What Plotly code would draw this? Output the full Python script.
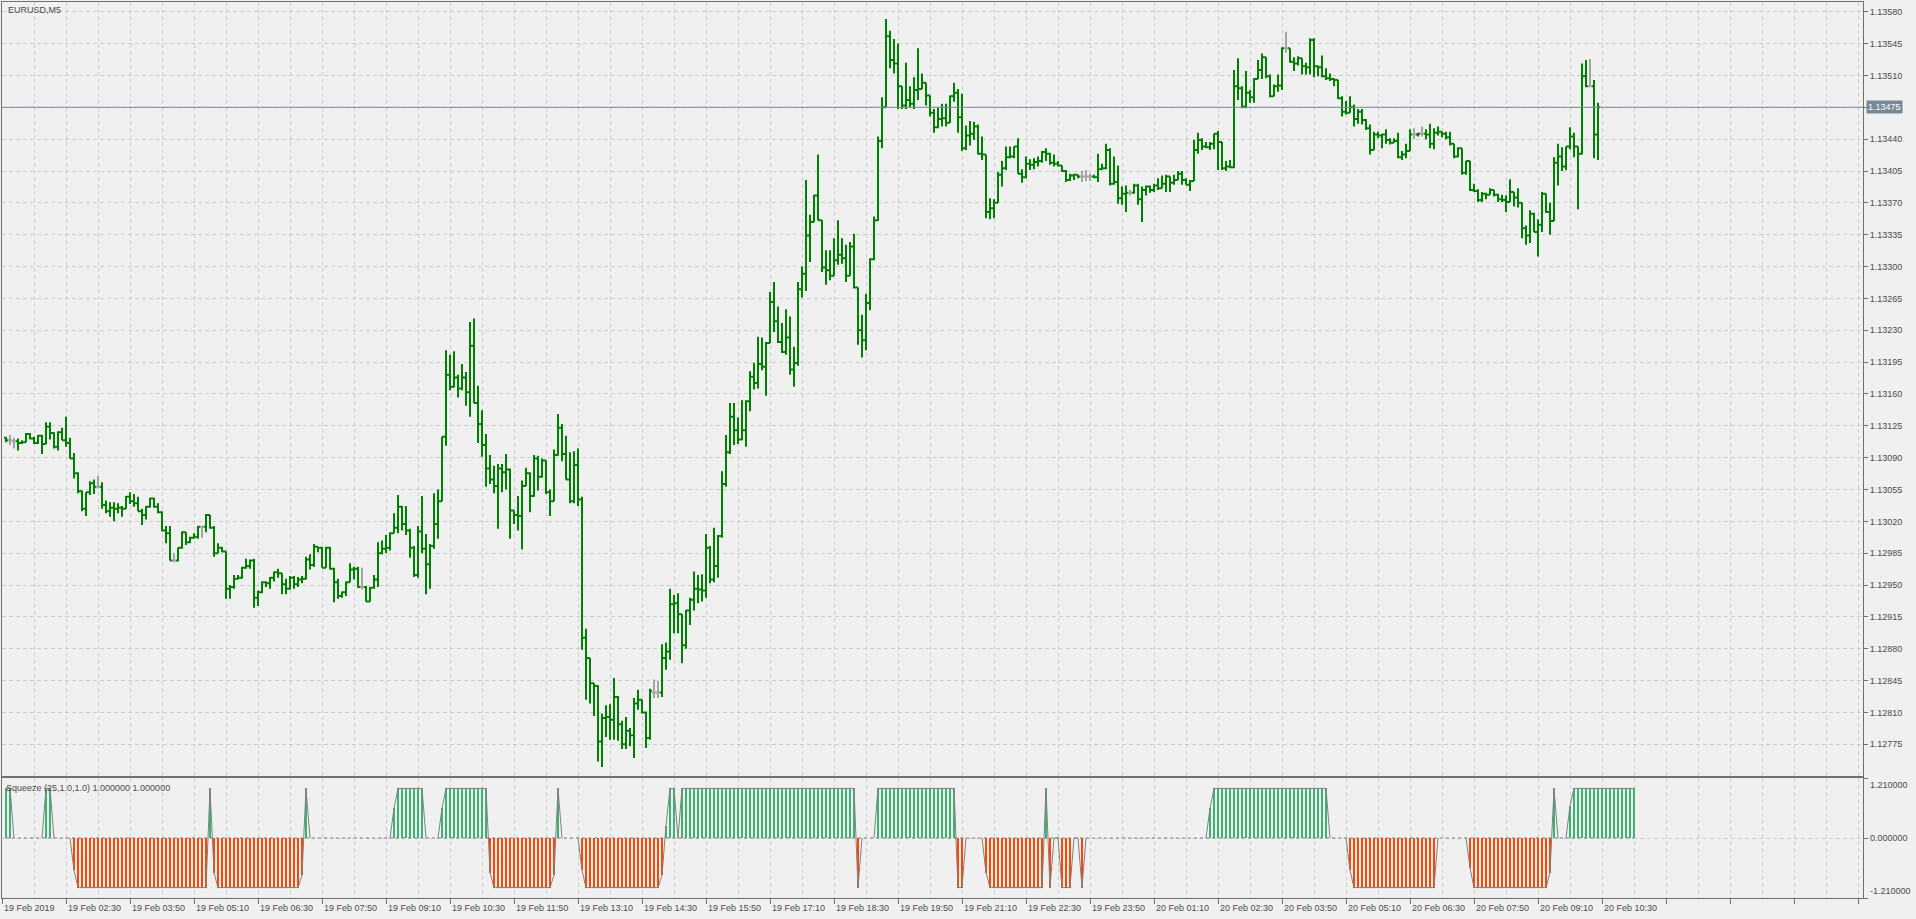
import plotly.graph_objects as go

# ---------------- data ----------------
symbol_title = "EURUSD,M5"
indicator_title = "Squeeze (25,1.0,1.0) 1.000000 1.000000"

opens = [
1.13112,1.13109,1.13108,1.13108,1.13106,1.13107,1.13116,1.13111,1.13106,1.13114,
1.13105,1.13124,1.13117,1.13102,1.13118,1.13109,1.13106,1.13089,1.13073,1.13053,
1.13034,1.13052,1.13062,1.13058,1.13058,1.13038,1.13031,1.13035,1.13034,1.13035,
1.13034,1.13047,1.13042,1.13040,1.13031,1.13027,1.13036,1.13045,1.13036,1.13030,
1.13010,1.13007,1.12977,1.12977,1.12991,1.13008,1.12997,1.13002,1.13003,1.13014,
1.13014,1.13027,1.13013,1.12985,1.12991,1.12987,1.12946,1.12948,1.12957,1.12958,
1.12969,1.12971,1.12977,1.12936,1.12942,1.12953,1.12952,1.12958,1.12964,1.12963,
1.12951,1.12946,1.12958,1.12951,1.12956,1.12957,1.12978,1.12972,1.12992,1.12991,
1.12969,1.12991,1.12968,1.12953,1.12938,1.12942,1.12953,1.12967,1.12968,1.12948,
1.12948,1.12932,1.12947,1.12956,1.12985,1.12990,1.12991,1.13007,1.13013,1.13036,
1.13017,1.13010,1.12991,1.12961,1.13009,1.12990,1.12973,1.12993,1.13017,1.13042,
1.13113,1.13181,1.13168,1.13178,1.13166,1.13178,1.13162,1.13213,1.13150,1.13127,
1.13104,1.13078,1.13066,1.13059,1.13078,1.13074,1.13077,1.13032,1.13027,1.13026,
1.13059,1.13073,1.13048,1.13089,1.13069,1.13087,1.13052,1.13042,1.13093,1.13123,
1.13094,1.13066,1.13042,1.13082,1.13044,1.12892,1.12870,1.12842,1.12839,1.12778,
1.12804,1.12805,1.12802,1.12827,1.12797,1.12775,1.12790,1.12785,1.12820,1.12824,
1.12810,1.12782,1.12832,1.12832,1.12832,1.12870,1.12877,1.12929,1.12930,1.12918,
1.12884,1.12922,1.12934,1.12946,1.12945,1.12944,1.12991,1.12956,1.12971,1.13004,
1.13061,1.13096,1.13135,1.13120,1.13110,1.13120,1.13152,1.13179,1.13172,1.13193,
1.13190,1.13216,1.13261,1.13240,1.13217,1.13206,1.13222,1.13187,1.13194,1.13275,
1.13292,1.13334,1.13349,1.13378,1.13351,1.13299,1.13296,1.13290,1.13307,1.13313,
1.13309,1.13290,1.13322,1.13277,1.13230,1.13219,1.13260,1.13308,1.13351,1.13438,
1.13475,1.13553,1.13527,1.13523,1.13498,1.13477,1.13483,1.13479,1.13494,1.13495,
1.13502,1.13488,1.13469,1.13453,1.13462,1.13463,1.13458,1.13487,1.13491,1.13464,
1.13430,1.13444,1.13446,1.13454,1.13424,1.13423,1.13360,1.13364,1.13370,1.13401,
1.13408,1.13420,1.13421,1.13432,1.13402,1.13398,1.13413,1.13412,1.13415,1.13416,
1.13426,1.13424,1.13414,1.13413,1.13411,1.13405,1.13395,1.13400,1.13401,1.13399,
1.13399,1.13399,1.13399,1.13398,1.13407,1.13408,1.13428,1.13391,1.13393,1.13375,
1.13380,1.13381,1.13381,1.13389,1.13374,1.13384,1.13388,1.13384,1.13389,1.13386,
1.13391,1.13399,1.13392,1.13395,1.13402,1.13395,1.13390,1.13394,1.13428,1.13439,
1.13432,1.13431,1.13435,1.13446,1.13437,1.13408,1.13410,1.13409,1.13498,1.13496,
1.13476,1.13491,1.13486,1.13506,1.13516,1.13530,1.13509,1.13487,1.13498,1.13499,
1.13540,1.13540,1.13525,1.13523,1.13529,1.13520,1.13519,1.13549,1.13520,1.13519,
1.13509,1.13507,1.13506,1.13505,1.13485,1.13470,1.13469,1.13475,1.13462,1.13470,
1.13461,1.13452,1.13428,1.13445,1.13444,1.13445,1.13439,1.13436,1.13438,1.13420,
1.13423,1.13427,1.13445,1.13445,1.13446,1.13446,1.13445,1.13435,1.13447,1.13448,
1.13446,1.13442,1.13435,1.13421,1.13430,1.13403,1.13416,1.13384,1.13383,1.13373,
1.13380,1.13379,1.13384,1.13379,1.13374,1.13373,1.13371,1.13382,1.13376,1.13370,
1.13342,1.13334,1.13358,1.13338,1.13346,1.13380,1.13360,1.13350,1.13414,1.13421,
1.13410,1.13432,1.13443,1.13432,1.13424,1.13509,1.13498,1.13498,1.13445]

highs = [
1.13113,1.13115,1.13112,1.13111,1.13109,1.13117,1.13117,1.13113,1.13115,1.13115,
1.13129,1.13129,1.13118,1.13119,1.13123,1.13135,1.13112,1.13095,1.13074,1.13054,
1.13052,1.13064,1.13066,1.13070,1.13063,1.13043,1.13041,1.13041,1.13040,1.13037,
1.13048,1.13052,1.13050,1.13047,1.13034,1.13037,1.13046,1.13046,1.13040,1.13031,
1.13015,1.13015,1.12985,1.12991,1.13009,1.13008,1.13003,1.13007,1.13015,1.13015,
1.13028,1.13027,1.13015,1.12996,1.12992,1.12987,1.12950,1.12961,1.12961,1.12970,
1.12979,1.12978,1.12979,1.12944,1.12954,1.12954,1.12959,1.12965,1.12968,1.12963,
1.12957,1.12960,1.12960,1.12959,1.12960,1.12981,1.12984,1.12995,1.12992,1.12992,
1.12992,1.12992,1.12969,1.12957,1.12943,1.12954,1.12974,1.12970,1.12970,1.12969,
1.12949,1.12948,1.12961,1.12997,1.12999,1.13005,1.13008,1.13029,1.13049,1.13037,
1.13037,1.13012,1.12993,1.13015,1.13048,1.13006,1.12995,1.13051,1.13055,1.13113,
1.13208,1.13203,1.13207,1.13181,1.13193,1.13184,1.13239,1.13243,1.13169,1.13142,
1.13116,1.13093,1.13081,1.13083,1.13083,1.13094,1.13078,1.13032,1.13048,1.13065,
1.13079,1.13074,1.13093,1.13092,1.13089,1.13087,1.13055,1.13099,1.13138,1.13127,
1.13114,1.13096,1.13097,1.13100,1.13047,1.12902,1.12870,1.12842,1.12840,1.12809,
1.12818,1.12819,1.12848,1.12828,1.12801,1.12805,1.12793,1.12826,1.12835,1.12824,
1.12811,1.12836,1.12846,1.12845,1.12885,1.12887,1.12946,1.12939,1.12941,1.12918,
1.12923,1.12936,1.12965,1.12961,1.12962,1.13006,1.12993,1.13013,1.13005,1.13075,
1.13115,1.13150,1.13150,1.13134,1.13153,1.13153,1.13185,1.13194,1.13223,1.13222,
1.13217,1.13272,1.13283,1.13256,1.13238,1.13253,1.13245,1.13212,1.13283,1.13300,
1.13395,1.13357,1.13379,1.13423,1.13351,1.13318,1.13318,1.13331,1.13351,1.13331,
1.13324,1.13327,1.13336,1.13277,1.13247,1.13270,1.13309,1.13355,1.13443,1.13486,
1.13572,1.13559,1.13550,1.13545,1.13498,1.13524,1.13498,1.13508,1.13540,1.13512,
1.13502,1.13488,1.13473,1.13475,1.13479,1.13479,1.13488,1.13502,1.13495,1.13490,
1.13455,1.13460,1.13459,1.13456,1.13443,1.13423,1.13375,1.13374,1.13404,1.13416,
1.13432,1.13432,1.13432,1.13441,1.13407,1.13421,1.13418,1.13419,1.13421,1.13427,
1.13430,1.13425,1.13423,1.13416,1.13411,1.13406,1.13402,1.13402,1.13401,1.13405,
1.13406,1.13402,1.13401,1.13424,1.13413,1.13435,1.13430,1.13421,1.13411,1.13388,
1.13389,1.13384,1.13391,1.13391,1.13388,1.13389,1.13389,1.13391,1.13397,1.13400,
1.13401,1.13399,1.13401,1.13405,1.13405,1.13397,1.13395,1.13439,1.13447,1.13441,
1.13437,1.13437,1.13446,1.13449,1.13437,1.13416,1.13417,1.13516,1.13529,1.13498,
1.13515,1.13494,1.13507,1.13527,1.13534,1.13530,1.13511,1.13500,1.13511,1.13541,
1.13558,1.13540,1.13530,1.13531,1.13529,1.13524,1.13551,1.13551,1.13521,1.13532,
1.13518,1.13512,1.13507,1.13505,1.13487,1.13482,1.13487,1.13478,1.13473,1.13473,
1.13462,1.13456,1.13448,1.13448,1.13446,1.13451,1.13441,1.13441,1.13447,1.13427,
1.13435,1.13451,1.13452,1.13447,1.13454,1.13451,1.13457,1.13452,1.13454,1.13448,
1.13448,1.13448,1.13435,1.13431,1.13430,1.13416,1.13416,1.13391,1.13385,1.13382,
1.13381,1.13386,1.13384,1.13380,1.13379,1.13378,1.13396,1.13382,1.13386,1.13370,
1.13345,1.13362,1.13359,1.13352,1.13382,1.13380,1.13370,1.13420,1.13435,1.13431,
1.13432,1.13453,1.13447,1.13432,1.13523,1.13527,1.13528,1.13505,1.13480]

lows = [
1.13107,1.13104,1.13100,1.13098,1.13105,1.13107,1.13110,1.13105,1.13105,1.13094,
1.13105,1.13110,1.13100,1.13098,1.13109,1.13102,1.13089,1.13067,1.13051,1.13031,
1.13026,1.13049,1.13050,1.13056,1.13034,1.13029,1.13025,1.13020,1.13029,1.13025,
1.13034,1.13039,1.13036,1.13031,1.13016,1.13022,1.13035,1.13035,1.13029,1.13009,
1.12996,1.12977,1.12975,1.12976,1.12990,1.12994,1.12996,1.13001,1.13001,1.13002,
1.13008,1.13012,1.12981,1.12985,1.12986,1.12935,1.12935,1.12946,1.12956,1.12957,
1.12968,1.12968,1.12925,1.12927,1.12941,1.12948,1.12946,1.12954,1.12958,1.12940,
1.12940,1.12945,1.12946,1.12948,1.12952,1.12956,1.12967,1.12970,1.12986,1.12969,
1.12969,1.12967,1.12931,1.12935,1.12936,1.12938,1.12953,1.12956,1.12947,1.12945,
1.12932,1.12932,1.12946,1.12948,1.12984,1.12985,1.12988,1.13007,1.13007,1.13010,
1.13005,1.12980,1.12959,1.12958,1.12985,1.12940,1.12946,1.12990,1.13001,1.13042,
1.13103,1.13164,1.13167,1.13156,1.13164,1.13147,1.13135,1.13150,1.13106,1.13091,
1.13058,1.13061,1.13051,1.13012,1.13052,1.13055,1.13001,1.13017,1.13010,1.12989,
1.13059,1.13030,1.13047,1.13054,1.13068,1.13050,1.13026,1.13042,1.13092,1.13086,
1.13066,1.13040,1.13040,1.13037,1.12879,1.12824,1.12820,1.12806,1.12756,1.12750,
1.12783,1.12780,1.12780,1.12779,1.12770,1.12770,1.12773,1.12760,1.12813,1.12809,
1.12771,1.12780,1.12826,1.12826,1.12827,1.12857,1.12868,1.12897,1.12897,1.12864,
1.12880,1.12906,1.12922,1.12930,1.12932,1.12936,1.12952,1.12953,1.12958,1.13002,
1.13058,1.13094,1.13104,1.13105,1.13109,1.13102,1.13141,1.13165,1.13166,1.13186,
1.13158,1.13216,1.13228,1.13216,1.13205,1.13203,1.13181,1.13168,1.13191,1.13266,
1.13273,1.13305,1.13349,1.13351,1.13294,1.13280,1.13285,1.13290,1.13302,1.13303,
1.13283,1.13290,1.13276,1.13214,1.13200,1.13208,1.13252,1.13307,1.13350,1.13430,
1.13475,1.13518,1.13512,1.13473,1.13473,1.13473,1.13475,1.13473,1.13483,1.13495,
1.13477,1.13465,1.13447,1.13452,1.13454,1.13454,1.13458,1.13481,1.13447,1.13427,
1.13428,1.13433,1.13439,1.13423,1.13417,1.13353,1.13352,1.13353,1.13370,1.13388,
1.13406,1.13419,1.13419,1.13402,1.13392,1.13397,1.13406,1.13407,1.13410,1.13414,
1.13416,1.13412,1.13410,1.13410,1.13404,1.13393,1.13394,1.13395,1.13397,1.13393,
1.13394,1.13394,1.13397,1.13393,1.13406,1.13407,1.13389,1.13390,1.13369,1.13368,
1.13360,1.13378,1.13380,1.13368,1.13349,1.13378,1.13381,1.13382,1.13384,1.13386,
1.13382,1.13382,1.13390,1.13395,1.13390,1.13390,1.13383,1.13394,1.13424,1.13428,
1.13430,1.13428,1.13429,1.13406,1.13406,1.13405,1.13408,1.13408,1.13483,1.13474,
1.13474,1.13480,1.13480,1.13506,1.13506,1.13507,1.13486,1.13487,1.13492,1.13494,
1.13535,1.13524,1.13515,1.13521,1.13511,1.13511,1.13511,1.13508,1.13509,1.13508,
1.13505,1.13504,1.13498,1.13484,1.13465,1.13467,1.13469,1.13454,1.13457,1.13456,
1.13450,1.13423,1.13428,1.13441,1.13430,1.13435,1.13434,1.13436,1.13419,1.13417,
1.13419,1.13427,1.13440,1.13443,1.13443,1.13440,1.13430,1.13429,1.13444,1.13442,
1.13440,1.13433,1.13419,1.13420,1.13401,1.13401,1.13383,1.13382,1.13371,1.13371,
1.13374,1.13379,1.13377,1.13371,1.13371,1.13360,1.13371,1.13366,1.13365,1.13331,
1.13324,1.13326,1.13338,1.13311,1.13338,1.13359,1.13335,1.13350,1.13389,1.13405,
1.13406,1.13429,1.13420,1.13363,1.13423,1.13497,1.13497,1.13419,1.13417]

closes = [
1.13109,1.13109,1.13108,1.13106,1.13107,1.13116,1.13111,1.13106,1.13114,1.13105,
1.13124,1.13117,1.13102,1.13118,1.13109,1.13106,1.13089,1.13073,1.13053,1.13034,
1.13052,1.13062,1.13058,1.13058,1.13038,1.13031,1.13035,1.13034,1.13035,1.13034,
1.13047,1.13042,1.13040,1.13031,1.13027,1.13036,1.13045,1.13036,1.13030,1.13010,
1.13007,1.12977,1.12977,1.12991,1.13008,1.12997,1.13002,1.13003,1.13014,1.13014,
1.13027,1.13013,1.12985,1.12991,1.12987,1.12946,1.12948,1.12957,1.12958,1.12969,
1.12971,1.12977,1.12936,1.12942,1.12953,1.12952,1.12958,1.12964,1.12963,1.12951,
1.12946,1.12958,1.12951,1.12956,1.12957,1.12978,1.12972,1.12992,1.12991,1.12969,
1.12991,1.12968,1.12953,1.12938,1.12942,1.12953,1.12967,1.12968,1.12948,1.12948,
1.12932,1.12947,1.12956,1.12985,1.12990,1.12991,1.13007,1.13013,1.13036,1.13017,
1.13010,1.12991,1.12961,1.13009,1.12990,1.12973,1.12993,1.13017,1.13042,1.13113,
1.13181,1.13168,1.13178,1.13166,1.13178,1.13162,1.13213,1.13150,1.13127,1.13104,
1.13078,1.13066,1.13059,1.13078,1.13074,1.13077,1.13032,1.13027,1.13026,1.13059,
1.13073,1.13048,1.13089,1.13069,1.13087,1.13052,1.13042,1.13093,1.13123,1.13094,
1.13066,1.13042,1.13082,1.13044,1.12892,1.12870,1.12842,1.12839,1.12778,1.12804,
1.12805,1.12802,1.12827,1.12797,1.12775,1.12790,1.12785,1.12820,1.12824,1.12810,
1.12782,1.12834,1.12832,1.12832,1.12870,1.12877,1.12929,1.12930,1.12918,1.12884,
1.12922,1.12934,1.12946,1.12945,1.12944,1.12991,1.12956,1.12971,1.13004,1.13061,
1.13096,1.13135,1.13120,1.13110,1.13120,1.13152,1.13179,1.13172,1.13193,1.13190,
1.13216,1.13261,1.13240,1.13217,1.13206,1.13222,1.13187,1.13194,1.13275,1.13292,
1.13334,1.13349,1.13378,1.13351,1.13299,1.13296,1.13290,1.13307,1.13313,1.13309,
1.13290,1.13322,1.13277,1.13230,1.13219,1.13260,1.13308,1.13351,1.13438,1.13475,
1.13553,1.13527,1.13523,1.13498,1.13477,1.13483,1.13479,1.13494,1.13495,1.13502,
1.13488,1.13469,1.13453,1.13462,1.13463,1.13458,1.13487,1.13491,1.13464,1.13430,
1.13444,1.13446,1.13454,1.13424,1.13423,1.13360,1.13364,1.13370,1.13401,1.13408,
1.13420,1.13421,1.13432,1.13402,1.13398,1.13413,1.13412,1.13415,1.13416,1.13426,
1.13424,1.13414,1.13413,1.13411,1.13405,1.13395,1.13400,1.13401,1.13399,1.13399,
1.13399,1.13399,1.13398,1.13407,1.13408,1.13428,1.13391,1.13393,1.13375,1.13380,
1.13381,1.13381,1.13389,1.13374,1.13384,1.13388,1.13384,1.13389,1.13386,1.13391,
1.13399,1.13392,1.13395,1.13402,1.13395,1.13390,1.13394,1.13428,1.13439,1.13432,
1.13431,1.13435,1.13446,1.13437,1.13408,1.13410,1.13409,1.13498,1.13496,1.13476,
1.13491,1.13486,1.13506,1.13516,1.13530,1.13509,1.13487,1.13498,1.13499,1.13540,
1.13540,1.13525,1.13523,1.13529,1.13520,1.13519,1.13549,1.13520,1.13519,1.13509,
1.13507,1.13506,1.13505,1.13485,1.13470,1.13469,1.13475,1.13462,1.13470,1.13461,
1.13452,1.13428,1.13445,1.13444,1.13445,1.13439,1.13436,1.13438,1.13420,1.13423,
1.13427,1.13445,1.13445,1.13446,1.13446,1.13445,1.13435,1.13447,1.13448,1.13446,
1.13442,1.13435,1.13421,1.13430,1.13403,1.13416,1.13384,1.13383,1.13373,1.13380,
1.13379,1.13384,1.13379,1.13374,1.13373,1.13371,1.13382,1.13376,1.13370,1.13342,
1.13334,1.13358,1.13338,1.13346,1.13380,1.13360,1.13350,1.13414,1.13421,1.13410,
1.13432,1.13443,1.13432,1.13424,1.13509,1.13498,1.13498,1.13445,1.13475]

# Squeeze histogram values, as (value, number of consecutive bars) read left to right
squeeze_runs = [
(1, 2), (0, 8), (1, 2), (0, 5), (-0.65, 1), (-1, 33), (1, 1), (-0.7, 1), (-1, 21),
(-0.75, 1), (1, 1), (0, 21), (0.6, 1), (1, 7), (0, 4), (0.6, 1), (1, 11), (-0.7, 1),
(-1, 15), (-0.75, 1), (1, 1), (0, 5), (-0.65, 1), (-1, 19), (-0.75, 1), (0.25, 1),
(1, 2), (0, 1), (1, 44), (-1, 1), (0, 4), (1, 20), (-1, 2), (0, 5), (-0.7, 1),
(-1, 14), (1, 1), (-1, 1), (0, 2), (-1, 3), (0, 2), (-1, 1), (0, 31), (0.6, 1),
(1, 29), (0, 5), (-0.65, 1), (-1, 21), (0, 8), (-0.6, 1), (-1, 19), (-0.7, 1),
(1, 1), (0, 3), (0.65, 1), (1, 16)]

time_label_bars = [-1, 15, 31, 47, 63, 79, 95, 111, 127, 143, 159, 175, 191,
                   207, 223, 239, 255, 271, 287, 303, 319, 335, 351, 367, 383, 399]
time_labels = ["19 Feb 2019", "19 Feb 02:30", "19 Feb 03:50", "19 Feb 05:10",
               "19 Feb 06:30", "19 Feb 07:50", "19 Feb 09:10", "19 Feb 10:30",
               "19 Feb 11:50", "19 Feb 13:10", "19 Feb 14:30", "19 Feb 15:50",
               "19 Feb 17:10", "19 Feb 18:30", "19 Feb 19:50", "19 Feb 21:10",
               "19 Feb 22:30", "19 Feb 23:50", "20 Feb 01:10", "20 Feb 02:30",
               "20 Feb 03:50", "20 Feb 05:10", "20 Feb 06:30", "20 Feb 07:50",
               "20 Feb 09:10", "20 Feb 10:30"]

price_tick0 = 1.12775
price_step = 0.00035
squeeze_levels = [1.21, 0.0, -1.21]
squeeze_level_labels = ["1.210000", "0.000000", "-1.210000"]

# ---------------- styling / geometry ----------------
W, H = 1916, 919
L, RIGHT = 2, 1863          # plot area pixel edges
TOP, MAIN_BOT, IND_TOP, BOT = 2, 776, 778, 898
PW, PH = RIGHT - L, BOT - TOP

BG = "#f0f0f0"
GRID = "#cdcdcd"
FRAME = "#707070"
TXT = "#4b4b4b"
BAR_GREEN = "#008000"
DOJI_GREY = "#a4a4a4"
HIST_GREEN = "#3cb371"
HIST_RED = "#ff4500"
SQZ_LINE = "#808080"
BID = "#778899"
FONT = "Liberation Sans, Arial, sans-serif"
DASH = "4px,3px"

def pyp(py):      # pixel y -> paper y
    return (BOT - py) / PH

def pxp(px):      # pixel x -> paper x
    return (px - L) / PW

x_range = [-1.0, -1.0 + PW / 4.0]

# ---------------- traces ----------------
n = len(closes)
bars_x = list(range(n))
is_doji = [abs(o - c) < 1e-9 for o, c in zip(opens, closes)]
norm = [i for i in bars_x if not is_doji[i]]
doji = [i for i in bars_x if is_doji[i]]

fig = go.Figure()

def ohlc(idx, color):
    return go.Ohlc(
        x=idx, open=[opens[i] for i in idx], high=[highs[i] for i in idx],
        low=[lows[i] for i in idx], close=[closes[i] for i in idx],
        increasing=dict(line=dict(color=color, width=2)),
        decreasing=dict(line=dict(color=color, width=2)),
        tickwidth=0.5, xaxis="x", yaxis="y", showlegend=False, hoverinfo="skip")

fig.add_trace(ohlc(norm, BAR_GREEN))
fig.add_trace(ohlc(doji, DOJI_GREY))

squeeze = []
for val, cnt in squeeze_runs:
    squeeze.extend([val] * cnt)
ind_x = list(range(len(squeeze)))

# dotted zero level of the indicator over its data span
fig.add_trace(go.Scatter(x=[ind_x[0], ind_x[-1]], y=[0, 0], mode="lines",
                         line=dict(color=SQZ_LINE, width=1, dash="3px,3px"),
                         xaxis="x2", yaxis="y2", showlegend=False, hoverinfo="skip"))

colors = [HIST_GREEN if v > 0 else HIST_RED for v in squeeze]
fig.add_trace(go.Bar(x=ind_x, y=squeeze, width=0.5, marker=dict(color=colors, line=dict(width=0)),
                     xaxis="x2", yaxis="y2", showlegend=False, hoverinfo="skip"))

line_y = []
for i, v in enumerate(squeeze):
    near = v != 0 or (i > 0 and squeeze[i - 1] != 0) or (i < len(squeeze) - 1 and squeeze[i + 1] != 0)
    line_y.append(v if near else None)
fig.add_trace(go.Scatter(x=ind_x, y=line_y, mode="lines", connectgaps=False,
                         line=dict(color=SQZ_LINE, width=1),
                         xaxis="x2", yaxis="y2", showlegend=False, hoverinfo="skip"))

# ---------------- layout ----------------
common_x = dict(range=x_range, tickmode="linear", tick0=-1, dtick=16,
                showgrid=True, gridcolor=GRID, griddash=DASH, gridwidth=1,
                minor=dict(tick0=-1, dtick=8, showgrid=True, gridcolor=GRID, griddash=DASH),
                showline=True, mirror=True, linecolor=FRAME, linewidth=1,
                zeroline=False, fixedrange=True)

main_dom = [pyp(MAIN_BOT), 1.0]
ind_dom = [0.0, pyp(IND_TOP)]

bid = closes[-1]

annotations = [
    dict(text=symbol_title, xref="paper", yref="paper", x=pxp(6), y=pyp(10),
         xanchor="left", yanchor="middle", showarrow=False),
    dict(text=indicator_title, xref="paper", yref="paper", x=pxp(4), y=pyp(788),
         xanchor="left", yanchor="middle", showarrow=False),
    dict(text=f"{bid:.5f}", xref="paper", yref="y", x=pxp(1866), y=bid,
         xanchor="left", yanchor="middle", showarrow=False, bgcolor=BID,
         borderpad=1, font=dict(color="white", size=9, family=FONT)),
]
for lvl, lab in zip(squeeze_levels, squeeze_level_labels):
    ya = "top" if lvl > 0 else ("bottom" if lvl < 0 else "middle")
    annotations.append(dict(text=lab, xref="paper", yref="y2", x=pxp(1868), y=lvl,
                            xanchor="left", yanchor=ya, showarrow=False))
for b, lab in zip(time_label_bars, time_labels):
    annotations.append(dict(text=lab, xref="x2", yref="paper", x=b, y=pyp(908),
                            xanchor="left", yanchor="middle", xshift=0, showarrow=False))

fig.update_layout(
    width=W, height=H, autosize=False,
    margin=dict(l=L, r=W - RIGHT, t=TOP, b=H - BOT, pad=0),
    paper_bgcolor=BG, plot_bgcolor=BG,
    font=dict(family=FONT, size=9, color=TXT),
    showlegend=False, bargap=0,
    xaxis=dict(domain=[0, 1], anchor="y", showticklabels=False, ticks="",
               rangeslider=dict(visible=False), **common_x),
    yaxis=dict(domain=main_dom, anchor="x", side="right",
               range=[1.127402, 1.135907], tickmode="linear", tick0=price_tick0,
               dtick=price_step, tickformat=".5f", ticks="outside", ticklen=4,
               tickcolor=FRAME, showgrid=True, gridcolor=GRID, griddash=DASH,
               showline=True, mirror=True, linecolor=FRAME, zeroline=False,
               tickfont=dict(size=9, color=TXT), fixedrange=True),
    xaxis2=dict(domain=[0, 1], anchor="y2", matches="x", showticklabels=False,
                ticks="outside", ticklen=5, tickcolor=FRAME, **common_x),
    yaxis2=dict(domain=ind_dom, anchor="x2", side="right", range=[-1.21, 1.21],
                tickmode="array", tickvals=squeeze_levels, showticklabels=False,
                ticks="outside", ticklen=4, tickcolor=FRAME, showgrid=True,
                gridcolor=GRID, griddash=DASH, showline=True, mirror=True,
                linecolor=FRAME, zeroline=False, fixedrange=True),
    shapes=[dict(type="line", xref="paper", x0=0, x1=1, yref="y", y0=bid, y1=bid,
                 line=dict(color=BID, width=1))],
    annotations=annotations,
)

fig.write_html("out.html", config={"displayModeBar": False, "staticPlot": True},
               post_script="document.body.style.margin='0';document.body.style.overflow='hidden';")
